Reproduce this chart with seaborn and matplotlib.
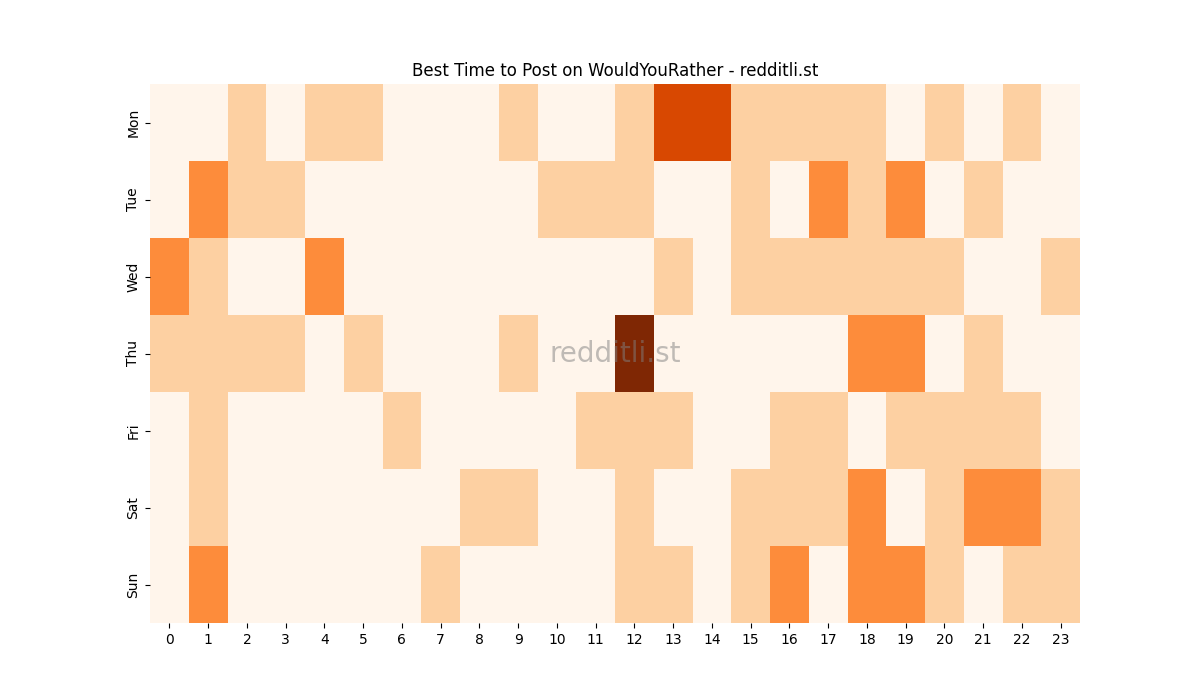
import matplotlib
matplotlib.use("Agg")
import matplotlib.pyplot as plt
import seaborn as sns
import pandas as pd

days = ["Mon", "Tue", "Wed", "Thu", "Fri", "Sat", "Sun"]
hours = list(range(24))
mon = [0,0,1,0,1,1,0,0,0,1,0,0,1,3,3,1,1,1,1,0,1,0,1,0]
tue = [0,2,1,1,0,0,0,0,0,0,1,1,1,0,0,1,0,2,1,2,0,1,0,0]
wed = [2,1,0,0,2,0,0,0,0,0,0,0,0,1,0,1,1,1,1,1,1,0,0,1]
thu = [1,1,1,1,0,1,0,0,0,1,0,0,4,0,0,0,0,0,2,2,0,1,0,0]
fri = [0,1,0,0,0,0,1,0,0,0,0,1,1,1,0,0,1,1,0,1,1,1,1,0]
sat = [0,1,0,0,0,0,0,0,1,1,0,0,1,0,0,1,1,1,2,0,1,2,2,1]
sun = [0,2,0,0,0,0,0,1,0,0,0,0,1,1,0,1,2,0,2,2,1,0,1,1]

df = pd.DataFrame([mon, tue, wed, thu, fri, sat, sun], index=days, columns=hours)

fig, ax = plt.subplots(figsize=(12, 7), dpi=100)
sns.heatmap(df, cmap="Oranges", vmin=0, vmax=4, cbar=False, ax=ax)
ax.set_title("Best Time to Post on WouldYouRather - redditli.st")
ax.set_xlabel("")
ax.set_ylabel("")
ax.text(0.5, 0.5, "redditli.st", transform=ax.transAxes, ha="center", va="center",
        fontsize=20, color="grey", alpha=0.5)
fig.savefig("out.png")
